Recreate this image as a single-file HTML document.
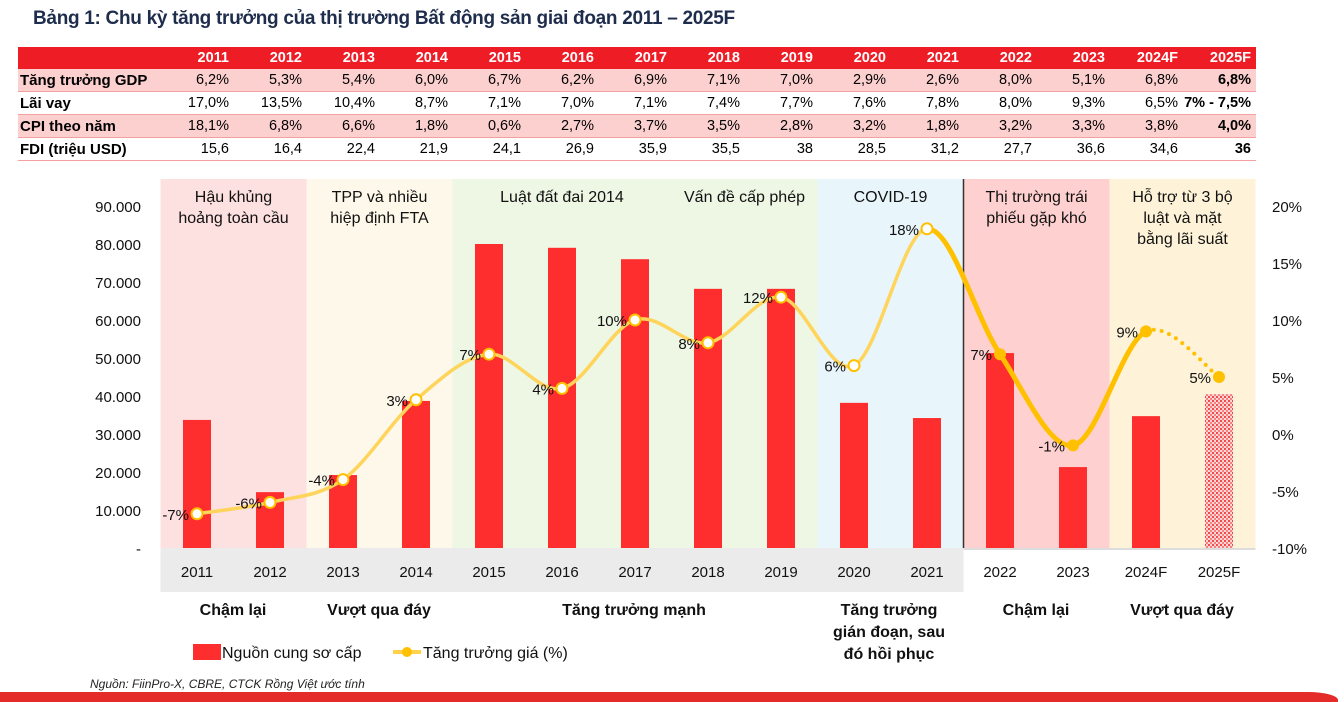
<!DOCTYPE html>
<html><head><meta charset="utf-8">
<style>
body{margin:0;width:1344px;height:699px;overflow:hidden;background:#fff;font-family:"Liberation Sans",sans-serif;position:relative}
#title{position:absolute;left:33px;top:8px;font-size:19px;font-weight:bold;color:#1f2d4d;letter-spacing:-0.3px}
table{position:absolute;left:18px;top:47px;border-collapse:collapse;font-size:14.5px;width:1238px;table-layout:fixed}
td{height:22px;padding:0 5px 0 0;text-align:right;border-bottom:1px solid #f4a0a0;white-space:nowrap}
tr.h td{background:#ee1c25;color:#fff;font-weight:bold;border-bottom:none}
tr.p td{background:#fdd0d0}
td.l{text-align:left;font-weight:bold;padding-left:2px;font-size:15px}
td.b{font-weight:bold}
svg{position:absolute;left:0;top:0}
#src{position:absolute;left:90px;top:677px;font-size:12px;font-style:italic;color:#222}
#strip{position:absolute;left:0;top:692px;width:1338px;height:10px;background:#e52a2a;border-top-right-radius:30px 8px}
</style></head><body>
<div id="title">Bảng 1: Chu kỳ tăng trưởng của thị trường Bất động sản giai đoạn 2011 – 2025F</div>
<table>
<colgroup><col style="width:143px"><col span="15"></colgroup>
<tr class="h"><td></td><td>2011</td><td>2012</td><td>2013</td><td>2014</td><td>2015</td><td>2016</td><td>2017</td><td>2018</td><td>2019</td><td>2020</td><td>2021</td><td>2022</td><td>2023</td><td>2024F</td><td>2025F</td></tr>
<tr class="p"><td class="l">Tăng trưởng GDP</td><td>6,2%</td><td>5,3%</td><td>5,4%</td><td>6,0%</td><td>6,7%</td><td>6,2%</td><td>6,9%</td><td>7,1%</td><td>7,0%</td><td>2,9%</td><td>2,6%</td><td>8,0%</td><td>5,1%</td><td>6,8%</td><td class="b">6,8%</td></tr>
<tr><td class="l">Lãi vay</td><td>17,0%</td><td>13,5%</td><td>10,4%</td><td>8,7%</td><td>7,1%</td><td>7,0%</td><td>7,1%</td><td>7,4%</td><td>7,7%</td><td>7,6%</td><td>7,8%</td><td>8,0%</td><td>9,3%</td><td>6,5%</td><td class="b">7% - 7,5%</td></tr>
<tr class="p"><td class="l">CPI theo năm</td><td>18,1%</td><td>6,8%</td><td>6,6%</td><td>1,8%</td><td>0,6%</td><td>2,7%</td><td>3,7%</td><td>3,5%</td><td>2,8%</td><td>3,2%</td><td>1,8%</td><td>3,2%</td><td>3,3%</td><td>3,8%</td><td class="b">4,0%</td></tr>
<tr><td class="l">FDI (triệu USD)</td><td>15,6</td><td>16,4</td><td>22,4</td><td>21,9</td><td>24,1</td><td>26,9</td><td>35,9</td><td>35,5</td><td>38</td><td>28,5</td><td>31,2</td><td>27,7</td><td>36,6</td><td>34,6</td><td class="b">36</td></tr>
</table>
<svg id="chart" width="1344" height="699">
<defs><pattern id="dots" width="4" height="4" patternUnits="userSpaceOnUse"><rect width="4" height="4" fill="#fcd6d6"/><rect width="2" height="2" fill="#f04a4a"/><rect x="2" y="2" width="2" height="2" fill="#f48080"/></pattern></defs>
<g id="bands"></g><g id="xband"></g><g id="bars"></g><g id="line"></g><g id="axes"></g><g id="labels"></g>
<g font-size="16" font-weight="bold" text-anchor="middle" fill="#111">
<text x="233" y="615">Chậm lại</text>
<text x="379" y="615">Vượt qua đáy</text>
<text x="634" y="615">Tăng trưởng mạnh</text>
<text x="889" y="615"><tspan x="889">Tăng trưởng</tspan><tspan x="889" dy="22">gián đoạn, sau</tspan><tspan x="889" dy="22">đó hồi phục</tspan></text>
<text x="1036" y="615">Chậm lại</text>
<text x="1182" y="615">Vượt qua đáy</text>
</g>
<g font-size="16" fill="#111">
<rect x="193" y="644" width="28" height="16" fill="#ff2e2e"/>
<text x="222" y="658">Nguồn cung sơ cấp</text>
<line x1="393" y1="652" x2="421" y2="652" stroke="#ffd24a" stroke-width="4"/>
<circle cx="407" cy="652" r="5" fill="#ffc000"/>
<text x="423" y="658">Tăng trưởng giá (%)</text>
</g>
</svg>
<div id="src">Nguồn: FiinPro-X, CBRE, CTCK Rồng Việt ước tính</div>
<div id="strip"></div>
<script>
const categories=["2011","2012","2013","2014","2015","2016","2017","2018","2019","2020","2021","2022","2023","2024F","2025F"];
const supply=[33700,14700,19200,38700,80000,79000,76000,68200,68200,38200,34200,51300,21300,34700,40500];
const priceGrowth=[-7,-6,-4,3,7,4,10,8,12,6,18,7,-1,9,5];
const leftTicks=[0,10000,20000,30000,40000,50000,60000,70000,80000,90000];
const leftTickLabels=["-","10.000","20.000","30.000","40.000","50.000","60.000","70.000","80.000","90.000"];
const rightTicks=[-10,-5,0,5,10,15,20];
const bandTitles=[["Hậu khủng","hoảng toàn cầu"],["TPP và nhiều","hiệp định FTA"],["Luật đất đai 2014"],["Vấn đề cấp phép"],["COVID-19"],["Thị trường trái","phiếu gặp khó"],["Hỗ trợ từ 3 bộ","luật và mặt","bằng lãi suất"]];
const bandSpans=[[0,2],[2,4],[4,7],[7,9],[9,11],[11,13],[13,15]];
const bandColors=["#fde0e0","#fef8ea","#eef6e4","#eef6e4","#e8f6fc","#ffd0d0","#fef3d8"];
const NS="http://www.w3.org/2000/svg";
const X0=160.5,STEP=73,YB=548;
const xc=i=>X0+STEP*(i+0.5);
const xe=i=>X0+STEP*i;
const yL=v=>YB-v*38/10000;
const yR=v=>434-v*57/5;
function mk(p,t,a){const e=document.createElementNS(NS,t);for(const k in a)e.setAttribute(k,a[k]);p.appendChild(e);return e;}
const G=id=>document.getElementById(id);
bandSpans.forEach((s,j)=>{
  const r=mk(G('bands'),'rect',{x:xe(s[0]),y:179,width:xe(s[1])-xe(s[0]),height:YB-179,fill:bandColors[j]});
  
  
  const cx=(xe(s[0])+xe(s[1]))/2;
  bandTitles[j].forEach((ln,k)=>{
    const t=mk(G('bands'),'text',{x:cx,y:202+k*21,'text-anchor':'middle','font-size':16,fill:'#111'});
    t.textContent=ln;
    
    
  });
});
mk(G('bands'),'line',{x1:xe(11),y1:179,x2:xe(11),y2:YB,stroke:'#333','stroke-width':1.5});
const xb=mk(G('xband'),'rect',{x:xe(0),y:YB,width:xe(11)-xe(0),height:44,fill:'#ebebeb'});


mk(G('xband'),'line',{x1:xe(11),y1:YB+1,x2:xe(15),y2:YB+1,stroke:'#ddd','stroke-width':2});
categories.forEach((c,i)=>{
  const h=YB-yL(supply[i]);
  const b=mk(G('bars'),'rect',{x:xc(i)-14,y:yL(supply[i]),width:28,height:h,fill:i==14?'url(#dots)':'#ff2e2e'});
  
  
  const t=mk(G('axes'),'text',{x:xc(i),y:577,'text-anchor':'middle','font-size':15,fill:'#111'});
  t.textContent=c;
  
  
});
leftTicks.forEach((v,i)=>{
  const t=mk(G('axes'),'text',{x:141,y:yL(v)+6,'text-anchor':'end','font-size':15,fill:'#111'});
  t.textContent=leftTickLabels[i];
  
  
});
rightTicks.forEach(v=>{
  const t=mk(G('axes'),'text',{x:1272,y:yR(v)+6,'font-size':15,fill:'#111'});
  t.textContent=v+'%';
  
  
});
const P=priceGrowth.map((v,i)=>[xc(i),yR(v)]);
function seg(i){
  const p0=P[Math.max(i-1,0)],p1=P[i],p2=P[i+1],p3=P[Math.min(i+2,P.length-1)];
  const c1=[p1[0]+(p2[0]-p0[0])/6,p1[1]+(p2[1]-p0[1])/6];
  const c2=[p2[0]-(p3[0]-p1[0])/6,p2[1]-(p3[1]-p1[1])/6];
  return `M${p1[0]},${p1[1]} C${c1[0]},${c1[1]} ${c2[0]},${c2[1]} ${p2[0]},${p2[1]}`;
}
for(let i=0;i<P.length-1;i++){
  let st={fill:'none',stroke:'#ffd45a','stroke-width':3.5,'stroke-linecap':'round'};
  if(i>=10&&i<13){st.stroke='#ffc000';st['stroke-width']=5;}
  if(i==13){st.stroke='#ffc000';st['stroke-width']=4;st['stroke-dasharray']='0 8';}
  st.d=seg(i);
  const s=mk(G('line'),'path',st);
  
  
}
P.forEach((p,i)=>{
  const late=i>=11;
  const c=mk(G('line'),'circle',{cx:p[0],cy:p[1],r:late?6:5.5,fill:late?'#ffc000':'#fff',stroke:'#ffc000','stroke-width':late?0:2});
  
  
  const t=mk(G('labels'),'text',{x:p[0]-8,y:p[1]+6,'text-anchor':'end','font-size':15,fill:'#111'});
  t.textContent=priceGrowth[i]+'%';
  
  
});
</script>
</body></html>
